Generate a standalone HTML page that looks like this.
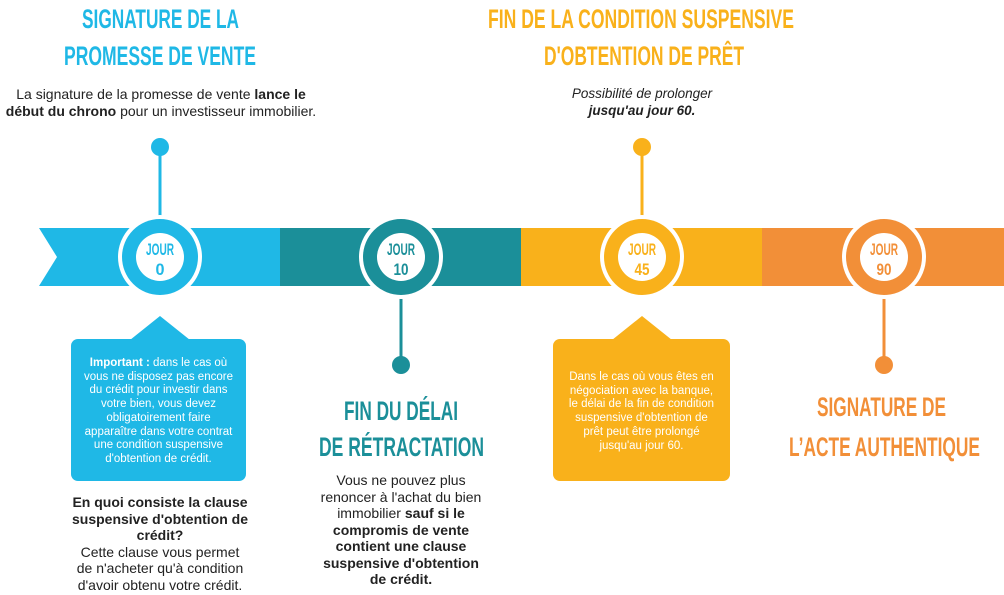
<!DOCTYPE html>
<html><head><meta charset="utf-8"><style>
html,body{margin:0;padding:0;background:#fff;}
body{width:1004px;height:595px;position:relative;overflow:hidden;font-family:"Liberation Sans",sans-serif;}
.t{position:absolute;text-align:center;color:#222;font-size:13.5px;line-height:16.5px;white-space:nowrap;}
.b{position:absolute;text-align:center;color:#fff;font-size:11.5px;line-height:13.7px;white-space:nowrap;}
</style></head><body>
<svg width="1004" height="595" style="position:absolute;left:0;top:0">
<g font-family="Liberation Sans, sans-serif" font-weight="bold" font-size="27" text-anchor="start">
<text x="82" y="28" textLength="157" lengthAdjust="spacingAndGlyphs" fill="#1fb8e6">SIGNATURE DE LA</text>
<text x="64" y="65" textLength="192" lengthAdjust="spacingAndGlyphs" fill="#1fb8e6">PROMESSE DE VENTE</text>
<text x="488" y="28" textLength="306" lengthAdjust="spacingAndGlyphs" fill="#f9b11b">FIN DE LA CONDITION SUSPENSIVE</text>
<text x="544" y="65" textLength="200" lengthAdjust="spacingAndGlyphs" fill="#f9b11b">D'OBTENTION DE PRÊT</text>
<text x="344" y="420" textLength="114" lengthAdjust="spacingAndGlyphs" fill="#1b8f99">FIN DU DÉLAI</text>
<text x="319" y="456" textLength="165" lengthAdjust="spacingAndGlyphs" fill="#1b8f99">DE RÉTRACTATION</text>
<text x="817" y="416" textLength="129" lengthAdjust="spacingAndGlyphs" fill="#f28f38">SIGNATURE DE</text>
<text x="789" y="456" textLength="191" lengthAdjust="spacingAndGlyphs" fill="#f28f38">L’ACTE AUTHENTIQUE</text>
</g>
<polygon points="39,228 280,228 280,286 39,286 57,257" fill="#1fb8e6"/>
<rect x="280" y="228" width="241" height="58" fill="#1b8f99"/>
<rect x="521" y="228" width="241" height="58" fill="#f9b11b"/>
<rect x="762" y="228" width="242" height="58" fill="#f28f38"/>
<line x1="160" y1="147" x2="160" y2="220" stroke="#1fb8e6" stroke-width="3"/>
<circle cx="160" cy="147" r="9" fill="#1fb8e6"/>
<line x1="401" y1="295" x2="401" y2="365" stroke="#1b8f99" stroke-width="3"/>
<circle cx="401" cy="365" r="9" fill="#1b8f99"/>
<line x1="642" y1="147" x2="642" y2="220" stroke="#f9b11b" stroke-width="3"/>
<circle cx="642" cy="147" r="9" fill="#f9b11b"/>
<line x1="884" y1="295" x2="884" y2="365" stroke="#f28f38" stroke-width="3"/>
<circle cx="884" cy="365" r="9" fill="#f28f38"/>
<g font-family="Liberation Sans, sans-serif" font-weight="bold" font-size="17" text-anchor="middle">
<circle cx="160" cy="257" r="42" fill="#fff"/><circle cx="160" cy="257" r="38" fill="#1fb8e6"/><circle cx="160" cy="257" r="24" fill="#fff"/>
<text x="160" y="255" fill="#1fb8e6" textLength="28" lengthAdjust="spacingAndGlyphs">JOUR</text><text x="160" y="275" fill="#1fb8e6" textLength="9" lengthAdjust="spacingAndGlyphs">0</text>
<circle cx="401" cy="257" r="42" fill="#fff"/><circle cx="401" cy="257" r="38" fill="#1b8f99"/><circle cx="401" cy="257" r="24" fill="#fff"/>
<text x="401" y="255" fill="#1b8f99" textLength="28" lengthAdjust="spacingAndGlyphs">JOUR</text><text x="401" y="275" fill="#1b8f99" textLength="15" lengthAdjust="spacingAndGlyphs">10</text>
<circle cx="642" cy="257" r="42" fill="#fff"/><circle cx="642" cy="257" r="38" fill="#f9b11b"/><circle cx="642" cy="257" r="24" fill="#fff"/>
<text x="642" y="255" fill="#f9b11b" textLength="28" lengthAdjust="spacingAndGlyphs">JOUR</text><text x="642" y="275" fill="#f9b11b" textLength="15" lengthAdjust="spacingAndGlyphs">45</text>
<circle cx="884" cy="257" r="42" fill="#fff"/><circle cx="884" cy="257" r="38" fill="#f28f38"/><circle cx="884" cy="257" r="24" fill="#fff"/>
<text x="884" y="255" fill="#f28f38" textLength="28" lengthAdjust="spacingAndGlyphs">JOUR</text><text x="884" y="275" fill="#f28f38" textLength="15" lengthAdjust="spacingAndGlyphs">90</text>
</g>
<polygon points="130,340 160,316 190,340" fill="#1fb8e6"/>
<rect x="71" y="339" width="175" height="142" rx="7" fill="#1fb8e6"/>
<polygon points="612,340 642,316 672,340" fill="#f9b11b"/>
<rect x="553" y="339" width="177" height="142" rx="7" fill="#f9b11b"/>
</svg>
<div class="t" style="left:0;width:322px;top:86px;font-size:14px;">La signature de la promesse de vente <b>lance le</b><br><b>début du chrono</b> pour un investisseur immobilier.</div>
<div class="t" style="left:540px;width:204px;top:86px;font-style:italic;">Possibilité de prolonger<br><b>jusqu'au jour 60.</b></div>
<div class="b" style="left:71px;width:175px;top:357px;"><b>Important :</b> dans le cas où<br>vous ne disposez pas encore<br>du crédit pour investir dans<br>votre bien, vous devez<br>obligatoirement faire<br>apparaître dans votre contrat<br>une condition suspensive<br>d'obtention de crédit.</div>
<div class="b" style="left:553px;width:177px;top:371px;">Dans le cas où vous êtes en<br>négociation avec la banque,<br>le délai de la fin de condition<br>suspensive d'obtention de<br>prêt peut être prolongé<br>jusqu'au jour 60.</div>
<div class="t" style="left:60px;width:200px;top:494px;font-size:14px;"><b>En quoi consiste la clause<br>suspensive d'obtention de<br>crédit?</b><br>Cette clause vous permet<br>de n'acheter qu'à condition<br>d'avoir obtenu votre crédit.</div>
<div class="t" style="left:311px;width:180px;top:472px;font-size:14px;">Vous ne pouvez plus<br>renoncer à l'achat du bien<br>immobilier <b>sauf si le<br>compromis de vente<br>contient une clause<br>suspensive d'obtention<br>de crédit.</b></div>
</body></html>
